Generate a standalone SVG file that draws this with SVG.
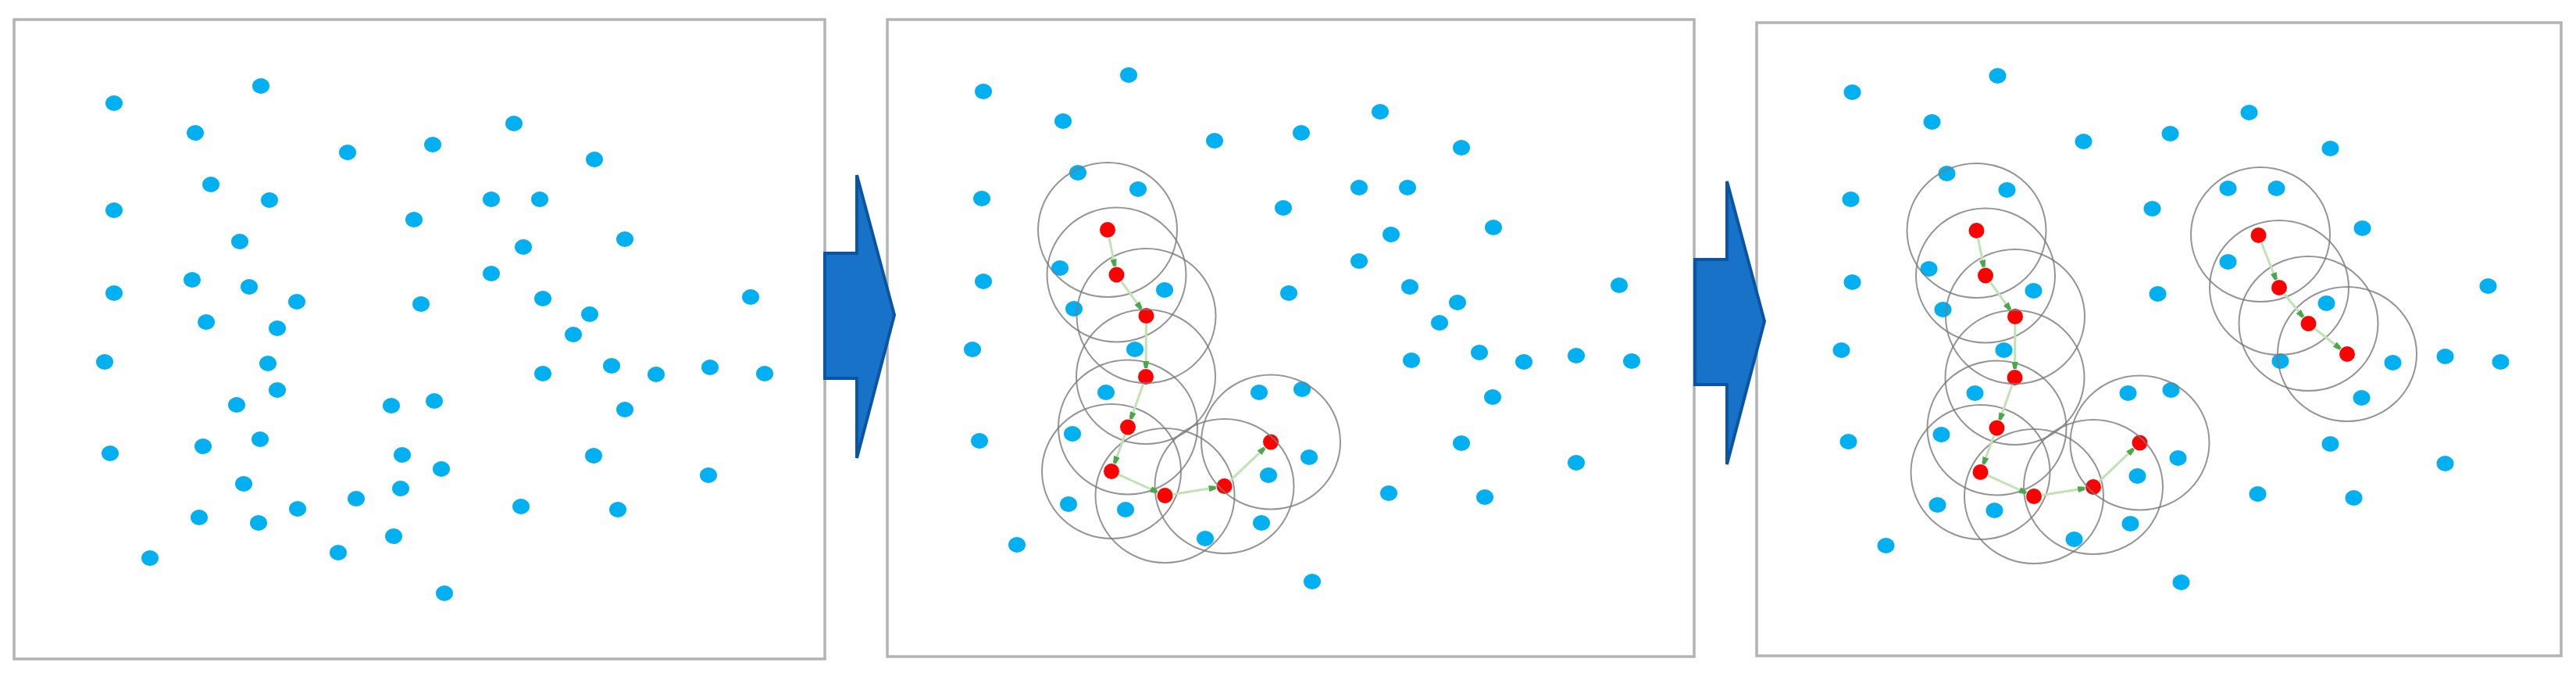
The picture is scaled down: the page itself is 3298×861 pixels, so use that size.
<svg xmlns="http://www.w3.org/2000/svg" xmlns:xlink="http://www.w3.org/1999/xlink" width="3298" height="861" viewBox="0 0 3298 861">
<style>
.frame{fill:#ffffff;stroke:#b3b3b3;stroke-width:3.5}
.b{fill:#00B0F0}
.r{fill:#FF0000}
.eps{fill:none;stroke:#7a7a7a;stroke-opacity:0.8;stroke-width:2}
.link{fill:none;stroke:#bfe3b4;stroke-width:3;marker-end:url(#ah)}
.arrow{fill:#1872C8;stroke:#0A55A3;stroke-width:4;stroke-linejoin:miter}
</style>
<defs>
<marker id="ah" markerUnits="userSpaceOnUse" markerWidth="10" markerHeight="8" refX="9" refY="4" orient="auto">
<path d="M0,0 L9,2 L9,6 L0,8 z" fill="#4aa84a"/>
</marker>
<g id="p2common">
<g id="p2blue">
<ellipse class="b" cx="1259" cy="117" rx="11" ry="10"/>
<ellipse class="b" cx="1445" cy="96" rx="11" ry="10"/>
<ellipse class="b" cx="1361" cy="155" rx="11" ry="10"/>
<ellipse class="b" cx="1555" cy="180" rx="11" ry="10"/>
<ellipse class="b" cx="1380" cy="221" rx="11" ry="10"/>
<ellipse class="b" cx="1457" cy="242" rx="11" ry="10"/>
<ellipse class="b" cx="1257" cy="254" rx="11" ry="10"/>
<ellipse class="b" cx="1643" cy="266" rx="11" ry="10"/>
<ellipse class="b" cx="1357" cy="343" rx="11" ry="10"/>
<ellipse class="b" cx="1259" cy="360" rx="11" ry="10"/>
<ellipse class="b" cx="1491" cy="371" rx="11" ry="10"/>
<ellipse class="b" cx="1375" cy="395" rx="11" ry="10"/>
<ellipse class="b" cx="1245" cy="447" rx="11" ry="10"/>
<ellipse class="b" cx="1453" cy="447" rx="11" ry="10"/>
<ellipse class="b" cx="1416" cy="502" rx="11" ry="10"/>
<ellipse class="b" cx="1612" cy="502" rx="11" ry="10"/>
<ellipse class="b" cx="1373" cy="555" rx="11" ry="10"/>
<ellipse class="b" cx="1254" cy="564" rx="11" ry="10"/>
<ellipse class="b" cx="1624" cy="608" rx="11" ry="10"/>
<ellipse class="b" cx="1368" cy="645" rx="11" ry="10"/>
<ellipse class="b" cx="1441" cy="652" rx="11" ry="10"/>
<ellipse class="b" cx="1615" cy="669" rx="11" ry="10"/>
<ellipse class="b" cx="1543" cy="689" rx="11" ry="10"/>
<ellipse class="b" cx="1302" cy="697" rx="11" ry="10"/>
<ellipse class="b" cx="1666" cy="170" rx="11" ry="10"/>
<ellipse class="b" cx="1767" cy="143" rx="11" ry="10"/>
<ellipse class="b" cx="1871" cy="189" rx="11" ry="10"/>
<ellipse class="b" cx="1740" cy="240" rx="11" ry="10"/>
<ellipse class="b" cx="1802" cy="240" rx="11" ry="10"/>
<ellipse class="b" cx="1912" cy="291" rx="11" ry="10"/>
<ellipse class="b" cx="1740" cy="334" rx="11" ry="10"/>
<ellipse class="b" cx="1650" cy="375" rx="11" ry="10"/>
<ellipse class="b" cx="1866" cy="387" rx="11" ry="10"/>
<ellipse class="b" cx="2073" cy="365" rx="11" ry="10"/>
<ellipse class="b" cx="1807" cy="461" rx="11" ry="10"/>
<ellipse class="b" cx="1951" cy="463" rx="11" ry="10"/>
<ellipse class="b" cx="2018" cy="455" rx="11" ry="10"/>
<ellipse class="b" cx="2089" cy="462" rx="11" ry="10"/>
<ellipse class="b" cx="1911" cy="508" rx="11" ry="10"/>
<ellipse class="b" cx="1667" cy="498" rx="11" ry="10"/>
<ellipse class="b" cx="1676" cy="585" rx="11" ry="10"/>
<ellipse class="b" cx="1871" cy="567" rx="11" ry="10"/>
<ellipse class="b" cx="2018" cy="592" rx="11" ry="10"/>
<ellipse class="b" cx="1778" cy="631" rx="11" ry="10"/>
<ellipse class="b" cx="1901" cy="636" rx="11" ry="10"/>
<ellipse class="b" cx="1680" cy="744" rx="11" ry="10"/>
</g>
<g id="p2red">
<ellipse class="r" cx="1418" cy="294" rx="10" ry="10"/>
<ellipse class="r" cx="1429.5" cy="351.5" rx="10" ry="10"/>
<ellipse class="r" cx="1467.5" cy="404" rx="10" ry="10"/>
<ellipse class="r" cx="1467" cy="482" rx="10" ry="10"/>
<ellipse class="r" cx="1444" cy="546.5" rx="10" ry="10"/>
<ellipse class="r" cx="1423" cy="603" rx="10" ry="10"/>
<ellipse class="r" cx="1491.5" cy="634" rx="10" ry="10"/>
<ellipse class="r" cx="1567.5" cy="622" rx="10" ry="10"/>
<ellipse class="r" cx="1627" cy="565.5" rx="10" ry="10"/>
</g>
<g id="p2eps">
<ellipse class="eps" cx="1418" cy="294" rx="89" ry="86"/>
<ellipse class="eps" cx="1429.5" cy="351.5" rx="89" ry="86"/>
<ellipse class="eps" cx="1467.5" cy="404" rx="89" ry="86"/>
<ellipse class="eps" cx="1467" cy="482" rx="89" ry="86"/>
<ellipse class="eps" cx="1444" cy="546.5" rx="89" ry="86"/>
<ellipse class="eps" cx="1423" cy="603" rx="89" ry="86"/>
<ellipse class="eps" cx="1491.5" cy="634" rx="89" ry="86"/>
<ellipse class="eps" cx="1567.5" cy="622" rx="89" ry="86"/>
<ellipse class="eps" cx="1627" cy="565.5" rx="89" ry="86"/>
</g>
<g id="p2links">
<line class="link" x1="1420" y1="303.8" x2="1427.3" y2="340.7"/>
<line class="link" x1="1435.4" y1="359.6" x2="1461" y2="395.1"/>
<line class="link" x1="1467.4" y1="414" x2="1467.1" y2="471"/>
<line class="link" x1="1463.6" y1="491.4" x2="1447.7" y2="536.1"/>
<line class="link" x1="1440.5" y1="555.9" x2="1426.8" y2="592.7"/>
<line class="link" x1="1432.1" y1="607.1" x2="1481.5" y2="629.5"/>
<line class="link" x1="1501.4" y1="632.4" x2="1556.6" y2="623.7"/>
<line class="link" x1="1574.8" y1="615.1" x2="1619" y2="573.1"/>
</g>
</g>
</defs>

<g id="panel1">
<rect class="frame" x="18" y="25" width="1038" height="818"/>
<g id="p1dots">
<ellipse class="b" cx="146" cy="132" rx="11" ry="10"/>
<ellipse class="b" cx="334" cy="110" rx="11" ry="10"/>
<ellipse class="b" cx="250" cy="170" rx="11" ry="10"/>
<ellipse class="b" cx="445" cy="195" rx="11" ry="10"/>
<ellipse class="b" cx="554" cy="185" rx="11" ry="10"/>
<ellipse class="b" cx="270" cy="236" rx="11" ry="10"/>
<ellipse class="b" cx="345" cy="256" rx="11" ry="10"/>
<ellipse class="b" cx="146" cy="269" rx="11" ry="10"/>
<ellipse class="b" cx="530" cy="281" rx="11" ry="10"/>
<ellipse class="b" cx="307" cy="309" rx="11" ry="10"/>
<ellipse class="b" cx="246" cy="358" rx="11" ry="10"/>
<ellipse class="b" cx="319" cy="367" rx="11" ry="10"/>
<ellipse class="b" cx="146" cy="375" rx="11" ry="10"/>
<ellipse class="b" cx="380" cy="386" rx="11" ry="10"/>
<ellipse class="b" cx="539" cy="389" rx="11" ry="10"/>
<ellipse class="b" cx="264" cy="412" rx="11" ry="10"/>
<ellipse class="b" cx="355" cy="420" rx="11" ry="10"/>
<ellipse class="b" cx="134" cy="463" rx="11" ry="10"/>
<ellipse class="b" cx="343" cy="465" rx="11" ry="10"/>
<ellipse class="b" cx="355" cy="499" rx="11" ry="10"/>
<ellipse class="b" cx="303" cy="518" rx="11" ry="10"/>
<ellipse class="b" cx="501" cy="519" rx="11" ry="10"/>
<ellipse class="b" cx="556" cy="513" rx="11" ry="10"/>
<ellipse class="b" cx="141" cy="580" rx="11" ry="10"/>
<ellipse class="b" cx="260" cy="571" rx="11" ry="10"/>
<ellipse class="b" cx="333" cy="562" rx="11" ry="10"/>
<ellipse class="b" cx="515" cy="582" rx="11" ry="10"/>
<ellipse class="b" cx="565" cy="600" rx="11" ry="10"/>
<ellipse class="b" cx="312" cy="619" rx="11" ry="10"/>
<ellipse class="b" cx="513" cy="625" rx="11" ry="10"/>
<ellipse class="b" cx="456" cy="638" rx="11" ry="10"/>
<ellipse class="b" cx="381" cy="651" rx="11" ry="10"/>
<ellipse class="b" cx="255" cy="662" rx="11" ry="10"/>
<ellipse class="b" cx="331" cy="669" rx="11" ry="10"/>
<ellipse class="b" cx="504" cy="686" rx="11" ry="10"/>
<ellipse class="b" cx="433" cy="707" rx="11" ry="10"/>
<ellipse class="b" cx="192" cy="714" rx="11" ry="10"/>
<ellipse class="b" cx="569" cy="759" rx="11" ry="10"/>
<ellipse class="b" cx="658" cy="158" rx="11" ry="10"/>
<ellipse class="b" cx="761" cy="204" rx="11" ry="10"/>
<ellipse class="b" cx="629" cy="255" rx="11" ry="10"/>
<ellipse class="b" cx="691" cy="255" rx="11" ry="10"/>
<ellipse class="b" cx="670" cy="316" rx="11" ry="10"/>
<ellipse class="b" cx="800" cy="306" rx="11" ry="10"/>
<ellipse class="b" cx="629" cy="350" rx="11" ry="10"/>
<ellipse class="b" cx="695" cy="382" rx="11" ry="10"/>
<ellipse class="b" cx="755" cy="402" rx="11" ry="10"/>
<ellipse class="b" cx="734" cy="428" rx="11" ry="10"/>
<ellipse class="b" cx="961" cy="380" rx="11" ry="10"/>
<ellipse class="b" cx="695" cy="478" rx="11" ry="10"/>
<ellipse class="b" cx="783" cy="468" rx="11" ry="10"/>
<ellipse class="b" cx="840" cy="479" rx="11" ry="10"/>
<ellipse class="b" cx="909" cy="470" rx="11" ry="10"/>
<ellipse class="b" cx="979" cy="478" rx="11" ry="10"/>
<ellipse class="b" cx="800" cy="524" rx="11" ry="10"/>
<ellipse class="b" cx="760" cy="583" rx="11" ry="10"/>
<ellipse class="b" cx="907" cy="608" rx="11" ry="10"/>
<ellipse class="b" cx="667" cy="648" rx="11" ry="10"/>
<ellipse class="b" cx="791" cy="652" rx="11" ry="10"/>
</g>
</g>

<g id="panel2">
<rect class="frame" x="1136" y="25" width="1033" height="815"/>
<g id="p2extra">
<ellipse class="b" cx="1781" cy="300" rx="11" ry="10"/>
<ellipse class="b" cx="1805" cy="367" rx="11" ry="10"/>
<ellipse class="b" cx="1843" cy="413" rx="11" ry="10"/>
<ellipse class="b" cx="1894" cy="451" rx="11" ry="10"/>
</g>
<use xlink:href="#p2common" href="#p2common"/>
</g>

<g id="panel3">
<rect class="frame" x="2249" y="29" width="1030" height="810"/>
<use xlink:href="#p2common" href="#p2common" transform="translate(1112.5,1)"/>
<g id="p3cluster2">
<ellipse class="r" cx="2891.5" cy="301" rx="10" ry="10"/>
<ellipse class="r" cx="2918" cy="368" rx="10" ry="10"/>
<ellipse class="r" cx="2955.5" cy="414" rx="10" ry="10"/>
<ellipse class="r" cx="3005" cy="453" rx="10" ry="10"/>
<ellipse class="eps" cx="2894" cy="300" rx="89" ry="86"/>
<ellipse class="eps" cx="2918" cy="368" rx="89" ry="86"/>
<ellipse class="eps" cx="2955.5" cy="414" rx="89" ry="86"/>
<ellipse class="eps" cx="3005" cy="453" rx="89" ry="86"/>
</g>
</g>

<g id="connectors">
<line class="link" x1="2895.2" y1="310.3" x2="2914" y2="357.8"/>
<line class="link" x1="2924.3" y1="375.8" x2="2948.5" y2="405.5"/>
<line class="link" x1="2963.4" y1="420.2" x2="2996.4" y2="446.2"/>
</g>

<g id="arrow1">
<polygon class="arrow" points="1056,324 1097,324 1097,224 1145,403 1097,586 1097,484 1056,484"/>
</g>
<g id="arrow2">
<polygon class="arrow" points="2170,332 2211,332 2211,232 2259,411 2211,594 2211,492 2170,492"/>
</g>
</svg>
